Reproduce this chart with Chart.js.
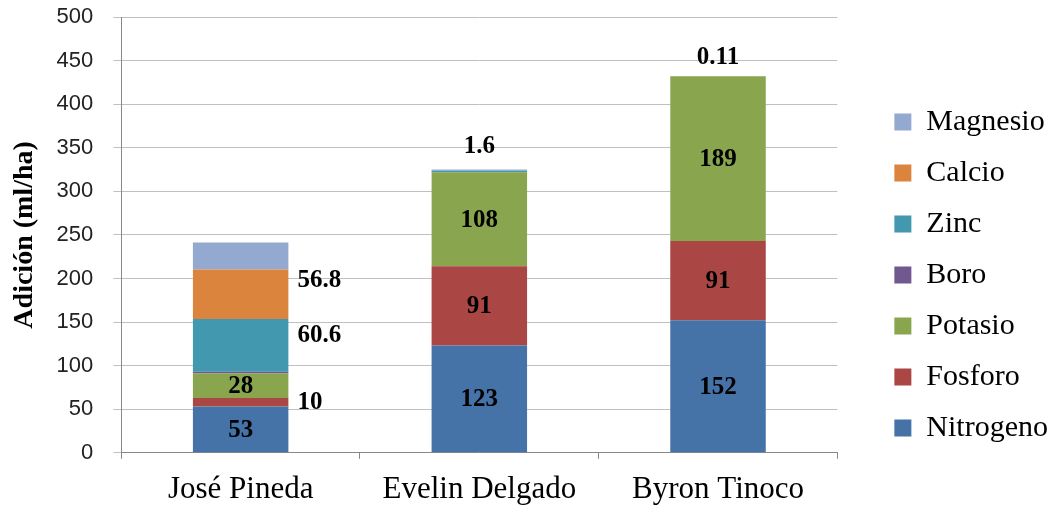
<!DOCTYPE html>
<html>
<head>
<meta charset="utf-8">
<script src="https://cdn.jsdelivr.net/npm/chart.js@4.4.1/dist/chart.umd.min.js"></script>
<style>
body { margin: 0; background: #fff; }
#wrap { width: 1056px; height: 508px; }
</style>
</head>
<body>
<div id="wrap"><canvas id="chart-adicion" width="1056" height="508"></canvas></div>
<script>
'use strict';
// datos (ml/ha)
var productores = ['José Pineda', 'Evelin Delgado', 'Byron Tinoco'];
var nitrogeno = [53, 123, 152];
var fosforo = [10, 91, 91];
var potasio = [28, 108, 189];
var boro = [2, 0, 0];
var zinc = [60.6, 1.6, 0.11];
var calcio = [56.8, 0, 0];
var magnesio = [31, 1.5, 0];
var yTicks = [0, 50, 100, 150, 200, 250, 300, 350, 400, 450, 500];

var serif = "'Liberation Serif', 'Times New Roman', serif";
var sans = "'Liberation Sans', Arial, sans-serif";
Chart.defaults.font.family = serif;
Chart.defaults.color = '#000';

// donde va cada etiqueta: dentro, a la derecha o arriba de la barra (null = sin etiqueta)
var etiquetasNitrogeno = [{pos: 'in'}, {pos: 'in'}, {pos: 'in'}];
var etiquetasFosforo = [{pos: 'right', dy: 0}, {pos: 'in'}, {pos: 'in'}];
var etiquetasPotasio = [{pos: 'in'}, {pos: 'in'}, {pos: 'in'}];
var etiquetasZinc = [{pos: 'right', dy: -10}, {pos: 'top', dy: -12}, {pos: 'top', dy: -6}];
var etiquetasCalcio = [{pos: 'right', dy: -14}, null, null];

var etiquetasPlugin = {
  id: 'etiquetas',
  afterDatasetsDraw: function(chart) {
    var ctx = chart.ctx;
    ctx.save();
    ctx.font = 'bold 25px ' + serif;
    ctx.fillStyle = '#000';
    chart.data.datasets.forEach(function(ds, i) {
      if (!ds.etiquetas) return;
      var meta = chart.getDatasetMeta(i);
      meta.data.forEach(function(bar, j) {
        var et = ds.etiquetas[j];
        if (!et) return;
        var txt = String(ds.data[j]);
        var p = bar.getProps(['x', 'y', 'base', 'width'], true);
        var midY = (p.y + p.base) / 2;
        var dy = et.dy || 0;
        if (et.pos === 'in') {
          ctx.textAlign = 'center';
          ctx.textBaseline = 'middle';
          ctx.fillText(txt, p.x, midY + 1);
        } else if (et.pos === 'right') {
          ctx.textAlign = 'left';
          ctx.textBaseline = 'middle';
          ctx.fillText(txt, p.x + p.width / 2 + 9, midY + dy);
        } else if (et.pos === 'top') {
          ctx.textAlign = 'center';
          ctx.textBaseline = 'bottom';
          ctx.fillText(txt, p.x, p.y + dy);
        }
      });
    });
    ctx.restore();
  }
};

// corre la leyenda un poco a la derecha y abajo, como en el original
var moverLeyenda = {
  id: 'moverLeyenda',
  afterLayout: function(chart) {
    var lg = chart.legend;
    if (!lg) return;
    lg.left += 36; lg.right += 36;
    lg.top += 15; lg.bottom += 15;
  }
};

function serie(label, data, color, etiquetas) {
  return {
    label: label,
    data: data,
    backgroundColor: color,
    borderWidth: 0,
    barPercentage: 0.4,
    categoryPercentage: 1.0,
    etiquetas: etiquetas
  };
}

var ctx = document.getElementById('chart-adicion').getContext('2d');
var adicionChart = new Chart(ctx, {
  type: 'bar',
  data: {
    labels: productores,
    datasets: [
      serie('Nitrogeno', nitrogeno, '#4572A7', etiquetasNitrogeno),
      serie('Fosforo', fosforo, '#AA4643', etiquetasFosforo),
      serie('Potasio', potasio, '#89A54E', etiquetasPotasio),
      serie('Boro', boro, '#71588F', null),
      serie('Zinc', zinc, '#4198AF', etiquetasZinc),
      serie('Calcio', calcio, '#DB843D', etiquetasCalcio),
      serie('Magnesio', magnesio, '#93A9CF', null)
    ]
  },
  options: {
    responsive: false,
    animation: false,
    layout: { padding: { left: 6, right: 34, top: 0, bottom: -12 } },
    plugins: {
      legend: {
        position: 'right',
        reverse: true,
        labels: {
          boxWidth: 17,
          boxHeight: 17,
          padding: 21,
          color: '#000',
          font: { family: serif, size: 30 }
        }
      },
      tooltip: { enabled: false }
    },
    scales: {
      x: {
        stacked: true,
        grid: { offset: true, drawOnChartArea: false, tickLength: 6, color: '#888' },
        border: { color: '#888' },
        ticks: { color: '#000', padding: 12, font: { family: serif, size: 31 } }
      },
      y: {
        stacked: true,
        min: 0,
        max: 500,
        afterBuildTicks: function(scale) {
          scale.ticks = yTicks.map(function(v) { return { value: v }; });
        },
        afterFit: function(scale) {
          scale.paddingTop = 17;
        },
        grid: { color: '#c0c0c0', tickLength: 8 },
        border: { color: '#888' },
        ticks: { color: '#222', padding: 20, font: { family: sans, size: 22 } },
        title: {
          display: true,
          text: 'Adición (ml/ha)',
          color: '#000',
          font: { family: serif, size: 28, weight: 'bold' },
          padding: { top: 2, bottom: -5 }
        }
      }
    }
  },
  plugins: [etiquetasPlugin, moverLeyenda]
});
</script>
</body>
</html>
